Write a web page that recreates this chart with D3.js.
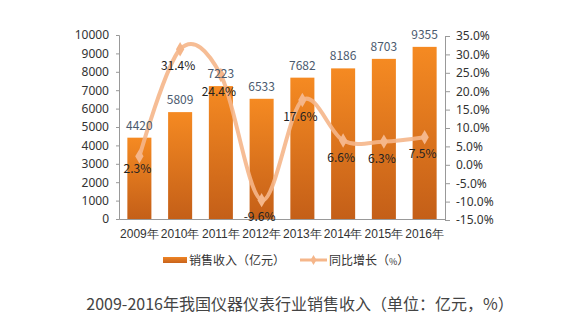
<!DOCTYPE html>
<html>
<head>
<meta charset="utf-8">
<script src="https://cdn.jsdelivr.net/npm/d3@7"></script>
<style>
  html, body { margin: 0; padding: 0; background: #fff; }
  svg { display: block; font-family: "Noto Sans CJK SC", "Noto Sans", sans-serif; }
</style>
</head>
<body>
<svg id="chart" width="566" height="323"></svg>
<script>
// Sales revenue of China's instrument industry, 2009-2016
const years = ["2009年", "2010年", "2011年", "2012年", "2013年", "2014年", "2015年", "2016年"];
const revenue = [4420, 5809, 7223, 6533, 7682, 8186, 8703, 9355];        // 亿元
const growth = [2.3, 31.4, 24.4, -9.6, 17.6, 6.6, 6.3, 7.5];               // %
const leftTicks = [0, 1000, 2000, 3000, 4000, 5000, 6000, 7000, 8000, 9000, 10000];
const rightTicks = [-15, -10, -5, 0, 5, 10, 15, 20, 25, 30, 35];

// percentages with a plain hyphen for negatives
const pct = d => d3.format(".1f")(d).replace("\u2212", "-") + "%";

const svg = d3.select("#chart");
const plot = { left: 119, right: 445, top: 35, bottom: 219 };

const x = d3.scaleBand().domain(years).range([plot.left, plot.right]).paddingInner(0.41).paddingOuter(0.205);
const yL = d3.scaleLinear().domain([0, 10000]).range([plot.bottom, plot.top]);
const yR = d3.scaleLinear().domain([-15, 35]).range([plot.bottom + 1, plot.top + 1]);

const defs = svg.append("defs");
const grad = defs.append("linearGradient").attr("id", "barGrad")
  .attr("x1", 0).attr("y1", 0).attr("x2", 0).attr("y2", 1);
grad.append("stop").attr("offset", "0%").attr("stop-color", "#f58a22");
grad.append("stop").attr("offset", "100%").attr("stop-color", "#c45f18");
const lgGrad = defs.append("linearGradient").attr("id", "legGrad")
  .attr("x1", 0).attr("y1", 0).attr("x2", 0).attr("y2", 1);
lgGrad.append("stop").attr("offset", "0%").attr("stop-color", "#ee8424");
lgGrad.append("stop").attr("offset", "100%").attr("stop-color", "#c8631c");

// bars
svg.append("g").selectAll("rect").data(revenue).join("rect")
  .attr("x", (d, i) => x(years[i]))
  .attr("width", x.bandwidth())
  .attr("y", d => yL(d))
  .attr("height", d => yL(0) - yL(d))
  .attr("fill", "url(#barGrad)");

// left axis
const axisL = d3.axisLeft(yL).tickValues(leftTicks).tickSize(3).tickPadding(7).tickFormat(d3.format("d"));
const gL = svg.append("g").attr("transform", `translate(${plot.left},0)`).call(axisL);
gL.select(".domain").attr("stroke", "#999");
gL.selectAll(".tick line").attr("stroke", "#999");
gL.selectAll(".tick text").attr("font-size", 12).attr("fill", "#333").attr("font-family", "Noto Sans, sans-serif");

// right axis
const axisR = d3.axisRight(yR).tickValues(rightTicks).tickSize(5).tickPadding(6).tickFormat(pct);
const gR = svg.append("g").attr("transform", `translate(${plot.right},0)`).call(axisR);
gR.select(".domain").attr("stroke", "#999");
gR.selectAll(".tick line").attr("stroke", "#999");
gR.selectAll(".tick text").attr("font-size", 12).attr("fill", "#333").attr("font-family", "Noto Sans, sans-serif");

// bottom axis
const axisB = d3.axisBottom(x).tickSize(0).tickPadding(10);
const gB = svg.append("g").attr("transform", `translate(0,${plot.bottom})`).call(axisB);
gB.select(".domain").attr("stroke", "#999");
gB.selectAll(".tick text").attr("font-size", 12).attr("fill", "#333");

// growth line (smoothed)
const cx = i => x(years[i]) + x.bandwidth() / 2;
const line = d3.line().x((d, i) => cx(i)).y(d => yR(d)).curve(d3.curveCardinal.tension(0));
svg.append("path").datum(growth)
  .attr("d", line)
  .attr("fill", "none")
  .attr("stroke", "#f5b68a")
  .attr("stroke-width", 4)
  .attr("stroke-opacity", 0.9);

const diamond = d3.symbol().type(d3.symbolDiamond).size(60);
svg.append("g").selectAll("path").data(growth).join("path")
  .attr("transform", (d, i) => `translate(${cx(i)},${yR(d)})`)
  .attr("d", diamond)
  .attr("fill", "#f5b68a");

// bar value labels
svg.append("g").selectAll("text").data(revenue).join("text")
  .attr("x", (d, i) => x(years[i]) + x.bandwidth() / 2)
  .attr("y", d => yL(d) - 8)
  .attr("text-anchor", "middle")
  .attr("font-size", 12)
  .attr("fill", "#4b5a6e")
  .text(d => d);

// growth labels
svg.append("g").selectAll("text").data(growth).join("text")
  .attr("x", (d, i) => cx(i) - 2)
  .attr("y", (d, i) => yR(d) + (i === 0 ? 17 : 21))
  .attr("text-anchor", "middle")
  .attr("font-size", 12)
  .attr("fill", "#222")
  .text(pct);

// legend
const lg = svg.append("g");
lg.append("rect").attr("x", 163).attr("y", 257).attr("width", 24).attr("height", 6).attr("fill", "url(#legGrad)");
lg.append("text").attr("x", 189).attr("y", 265).attr("font-size", 12).attr("fill", "#333").text("销售收入（亿元）");
lg.append("line").attr("x1", 300).attr("x2", 327).attr("y1", 260).attr("y2", 260)
  .attr("stroke", "#f5b68a").attr("stroke-width", 3);
lg.append("path").attr("transform", "translate(313.5,260)").attr("d", d3.symbol().type(d3.symbolDiamond).size(30)).attr("fill", "#f5b68a");
const lt = lg.append("text").attr("x", 329).attr("y", 265).attr("font-size", 12).attr("fill", "#333");
lt.append("tspan").text("同比增长（");
lt.append("tspan").attr("font-size", 9).text("%");
lt.append("tspan").text("）");

// caption
svg.append("text").attr("x", 300).attr("y", 310).attr("text-anchor", "middle")
  .attr("font-size", 16).attr("fill", "#444")
  .text("2009-2016年我国仪器仪表行业销售收入（单位：亿元，%）");
</script>
</body>
</html>
